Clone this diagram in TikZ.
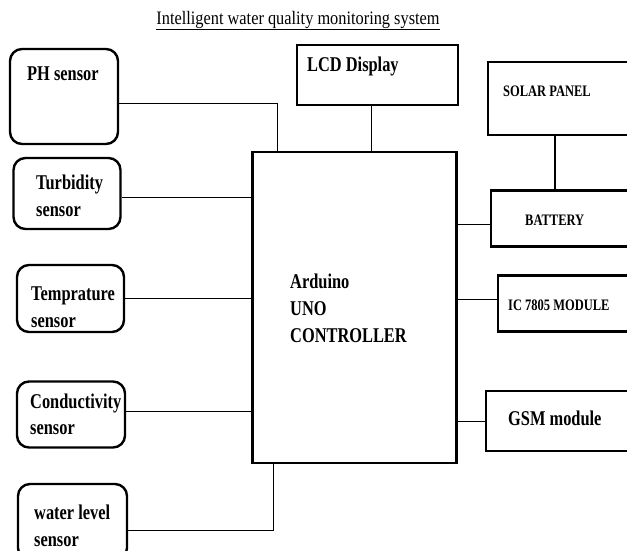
\documentclass[tikz,border=0pt]{standalone}
\usepackage{fontspec}
\setmainfont{Liberation Serif}
\newfontfamily\condfont[FakeStretch=0.86]{Liberation Serif}
\newfontfamily\tallfont[FakeStretch=0.78]{Liberation Serif}
\usetikzlibrary{positioning}
\begin{document}
\begin{tikzpicture}[x=1pt,y=-1pt,
  sbox/.style={draw,line width=2.4pt,rounded corners=12pt,inner sep=0pt},
  rbox/.style={draw,line width=2.4pt,inner sep=0pt},
  conn/.style={line width=0.9pt},
  big/.style={font=\tallfont\bfseries\fontsize{21}{21}\selectfont,anchor=base west,inner sep=0pt},
  small/.style={font=\tallfont\bfseries\fontsize{16}{16}\selectfont,anchor=base west,inner sep=0pt}]
\useasboundingbox (0,0) rectangle (627,550);
% title
\node[font=\condfont\fontsize{19}{19}\selectfont,inner sep=0pt,anchor=base] (title) at (298,24) {\underline{Intelligent water quality monitoring system}};
% boxes
\node[sbox,minimum width=108pt,minimum height=95pt] (ph) at (64,96.5) {};
\node[sbox,minimum width=107pt,minimum height=71pt] (turb) at (67,193.5) {};
\node[sbox,minimum width=107pt,minimum height=67pt] (temp) at (70.5,298.5) {};
\node[sbox,minimum width=108pt,minimum height=66pt] (cond) at (71,414.5) {};
\node[sbox,minimum width=109pt,minimum height=76pt] (wl) at (72.5,522) {};
\node[rbox,minimum width=161pt,minimum height=60pt] (lcd) at (377.5,75) {};
\node[rbox,minimum width=152pt,minimum height=73pt] (solar) at (564,98.5) {};
\node[rbox,minimum width=204pt,minimum height=311pt] (ard) at (354.5,307.5) {};
\node[rbox,minimum width=149pt,minimum height=56pt] (bat) at (565.5,218.5) {};
\node[rbox,minimum width=142pt,minimum height=56pt] (ic) at (569,303.5) {};
\node[rbox,minimum width=154pt,minimum height=60pt] (gsm) at (563,421) {};
% texts
\node[big] (tph) at (27,80) {PH sensor};
\node[big] (tlcd) at (307,71) {LCD Display};
\node[small] (tsolar) at (503,96) {SOLAR PANEL};
\node[big] (ta1) at (290,288) {Arduino};
\node[big] (ta2) at (290,315) {UNO};
\node[big] (ta3) at (290,342) {CONTROLLER};
\node[big] (tt1) at (36,189) {Turbidity};
\node[big] (tt2) at (36,216) {sensor};
\node[big] (tm1) at (31,300) {Temprature};
\node[big] (tm2) at (31,327) {sensor};
\node[big] (tc1) at (30,408) {Conductivity};
\node[big] (tc2) at (30,434) {sensor};
\node[big] (tw1) at (34,519) {water level};
\node[big] (tw2) at (34,546) {sensor};
\node[small] (tbat) at (525,225) {BATTERY};
\node[small] (tic) at (508,310) {IC 7805 MODULE};
\node[big] (tgsm) at (508,425) {GSM module};
% connectors
\draw[conn] ([yshift=-6.5pt]ph.east) -| ([xshift=26pt]ard.north west);
\draw[conn] ([xshift=-6.5pt]lcd.south) -- ([xshift=-6.5pt]lcd.south |- ard.north);
\draw[conn] ([yshift=-3.5pt]turb.east) -- ([yshift=-3.5pt]turb.east -| ard.west);
\draw[conn] (temp.east) -- (temp.east -| ard.west);
\draw[conn] ([yshift=3pt]cond.east) -- ([yshift=3pt]cond.east -| ard.west);
\draw[conn] ([yshift=-8pt]wl.east) -| ([xshift=22pt]ard.south west);
\draw[line width=2pt] ([xshift=-9pt]solar.south) -- ([xshift=-9pt]solar.south |- bat.north);
\draw[conn] ([yshift=-5.5pt]bat.west) -- ([yshift=-5.5pt]bat.west -| ard.east);
\draw[conn] ([yshift=4.5pt]ic.west) -- ([yshift=4.5pt]ic.west -| ard.east);
\draw[conn] (gsm.west) -- (gsm.west -| ard.east);
\end{tikzpicture}
\end{document}
